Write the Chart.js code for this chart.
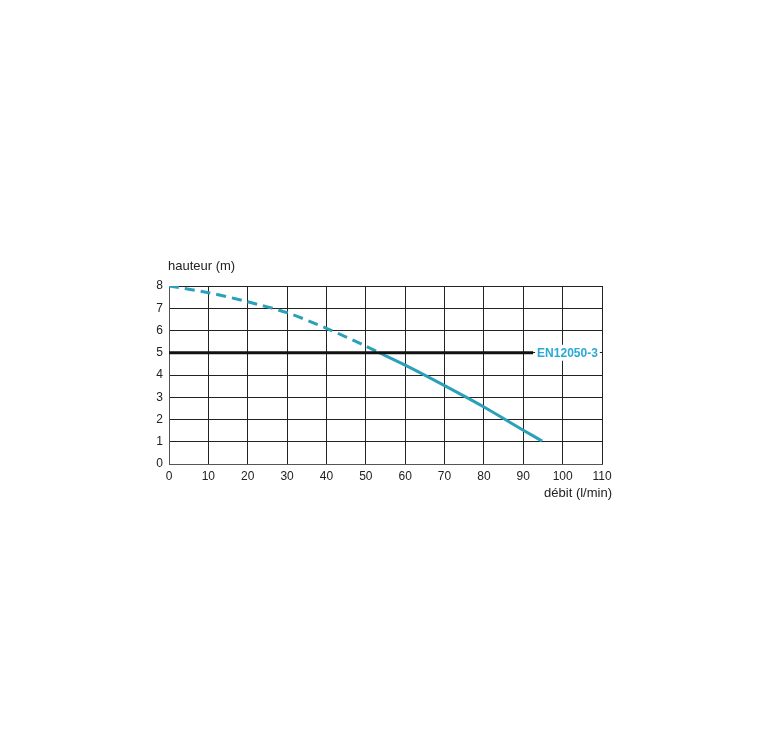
<!DOCTYPE html>
<html>
<head>
<meta charset="utf-8">
<script src="https://cdn.jsdelivr.net/npm/chart.js@4"></script>
<style>
  html, body { margin: 0; padding: 0; background: #fff; }
  #wrap { width: 762px; height: 747px; }
</style>
</head>
<body>
<div id="wrap"><canvas id="pumpChart"></canvas></div>
<script>
// pump curve
const dashedX = [0, 10, 20, 30, 40, 50, 53.4];
const dashedY = [8, 7.7, 7.29, 6.8, 6.1, 5.3, 5.0];
const solidX  = [53.4, 60, 70, 80, 90, 94.8];
const solidY  = [5.0, 4.44, 3.52, 2.56, 1.52, 1.03];
const normX   = [0, 92.5];
const normY   = [5, 5];
const xTicks  = [0, 10, 20, 30, 40, 50, 60, 70, 80, 90, 100, 110];
const yTicks  = [0, 1, 2, 3, 4, 5, 6, 7, 8];
const normLabel = 'EN12050-3';

const CURVE = '#2aa0b9';
const FONT = "'Liberation Sans Narrow', 'Liberation Sans', Arial, sans-serif";

const toPts = (xs, ys) => xs.map((x, i) => ({ x, y: ys[i] }));

// axis captions + norm label
const labels = {
    id: 'labels',
    afterDraw(chart) {
        const { ctx, chartArea: a, scales: { x, y } } = chart;
        ctx.save();
        ctx.fillStyle = '#222';
        ctx.font = '13px ' + FONT;
        ctx.textBaseline = 'middle';
        ctx.textAlign = 'left';
        ctx.fillText('hauteur (m)', a.left - 1, a.top - 20);
        ctx.textAlign = 'right';
        ctx.fillText('débit (l/min)', a.right + 10, a.bottom + 29);

        const lx = x.getPixelForValue(normX[1]) + 4;
        const ly = y.getPixelForValue(normY[1]);
        ctx.font = 'bold 12px ' + FONT;
        const w = ctx.measureText(normLabel).width;
        ctx.fillStyle = '#fff';
        ctx.fillRect(lx - 2, ly - 8, w + 4, 16);
        ctx.fillStyle = '#2aa9d2';
        ctx.textAlign = 'left';
        ctx.fillText(normLabel, lx, ly + 1);
        ctx.restore();
    }
};

new Chart(document.getElementById('pumpChart'), {
    type: 'line',
    data: {
        datasets: [
            { data: toPts(normX, normY), borderColor: '#111', borderWidth: 3, pointRadius: 0, tension: 0 },
            { data: toPts(dashedX, dashedY), borderColor: CURVE, borderWidth: 3, borderDash: [10, 6],
              pointRadius: 0, tension: 0.3 },
            { data: toPts(solidX, solidY), borderColor: CURVE, borderWidth: 3,
              pointRadius: 0, tension: 0.3 },
        ]
    },
    options: {
        responsive: true, maintainAspectRatio: false, animation: false,
        layout: { padding: { top: 286, right: 160, left: 0, bottom: 0 } },
        plugins: { legend: { display: false }, tooltip: { enabled: false } },
        scales: {
            x: {
                type: 'linear', min: 0, max: 110,
                afterBuildTicks: s => { s.ticks = xTicks.map(v => ({ value: v })); },
                afterFit: s => { s.height = 747 - 464; },
                grid: { color: '#222', lineWidth: 1, drawTicks: false },
                border: { color: '#555', width: 1 },
                ticks: { color: '#222', padding: 5, font: { family: FONT, size: 12 } },
            },
            y: {
                min: 0, max: 8,
                afterBuildTicks: s => { s.ticks = yTicks.map(v => ({ value: v })); },
                afterFit: s => { s.width = 169; },
                grid: { color: '#222', lineWidth: 1, drawTicks: false },
                border: { color: '#555', width: 1 },
                ticks: { color: '#222', padding: 6, font: { family: FONT, size: 12 } },
            },
        },
    },
    plugins: [labels],
});
</script>
</body>
</html>
